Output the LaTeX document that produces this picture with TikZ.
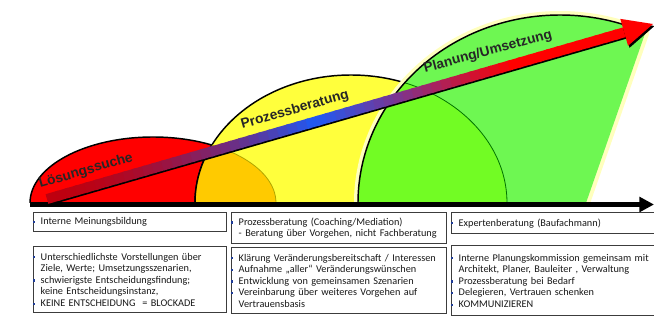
\documentclass[tikz,border=0pt]{standalone}
\usepackage{fontspec}
\setmainfont{Liberation Sans}
\newfontfamily\boxfamily{Carlito}
\usetikzlibrary{calc,arrows.meta}

\definecolor{humpred}{RGB}{255,0,0}
\definecolor{humpyellow}{RGB}{255,255,60}
\definecolor{humporange}{RGB}{255,202,0}
\definecolor{humpgreen}{RGB}{110,247,82}
\definecolor{overlapgreen}{RGB}{114,252,36}
\definecolor{glowyellow}{RGB}{255,255,190}
\definecolor{arrdark}{RGB}{190,0,15}
\definecolor{arrblue}{RGB}{30,90,245}
\definecolor{boxgray}{RGB}{60,60,60}
\definecolor{bulletblue}{RGB}{30,60,150}

\tikzset{
  hump/.style={draw=black, line width=1.1pt},
  seam/.style={line width=0.6pt},
  steplabel/.style={font=\fontsize{10.3}{12}\selectfont\bfseries, text=black!85, inner sep=0pt},
  axisline/.style={line width=3.75pt, -{Triangle[length=11pt,width=11pt]}},
  infobox/.style={draw=boxgray, line width=1.1pt, fill=white, anchor=north west,
    align=left, inner xsep=5.25pt, inner ysep=1.5pt, text=black!90,
    font=\boxfamily\fontsize{7.7}{8.7}\selectfont}
}
\newcommand{\sq}{\leavevmode\llap{\textcolor{bulletblue}{\rule[1.3pt]{1.6pt}{1.6pt}}\hspace{4.2pt}}}

\begin{document}
\begin{tikzpicture}[x=0.75pt,y=0.75pt,yscale=-1,xscale=1]
\useasboundingbox (0,0) rectangle (654,320);

%Shape: red hump
\fill[humpred] (30,203) arc[start angle=180, end angle=360, x radius=123, y radius=66] -- cycle;
\draw[hump] (30,203) arc[start angle=180, end angle=360, x radius=123, y radius=66];
%Shape: yellow hump
\fill[humpyellow] (195,203) arc[start angle=180, end angle=360, x radius=156, y radius=128] -- cycle;
\draw[hump] (195,203) arc[start angle=180, end angle=360, x radius=156, y radius=128];
%Overlap red / yellow
\begin{scope}
\clip (30,203) arc[start angle=180, end angle=360, x radius=123, y radius=66] -- cycle;
\fill[humporange] (195,203) arc[start angle=180, end angle=360, x radius=156, y radius=128] -- cycle;
\draw[hump] (195,203) arc[start angle=180, end angle=360, x radius=156, y radius=128];
\end{scope}
\begin{scope}
\clip (195,203) arc[start angle=180, end angle=360, x radius=156, y radius=128] -- cycle;
\draw[seam, draw=olive!70!yellow] (30,203) arc[start angle=180, end angle=360, x radius=123, y radius=66];
\end{scope}

%Shape: green hump with glow
\draw[glowyellow, line width=6pt, line join=round] (358,203) arc[start angle=180, end angle=295, x radius=202, y radius=188] -- (586,203);
\fill[humpgreen] (358,203) arc[start angle=180, end angle=295, x radius=202, y radius=188] -- (586,203) -- cycle;
%Overlap yellow / green
\begin{scope}
\clip (195,203) arc[start angle=180, end angle=360, x radius=156, y radius=128] -- cycle;
\fill[overlapgreen] (358,203) arc[start angle=180, end angle=295, x radius=202, y radius=188] -- (586,203) -- cycle;
\end{scope}
\begin{scope}
\clip (358,203) arc[start angle=180, end angle=295, x radius=202, y radius=188] -- (586,203) -- cycle;
\draw[seam, draw=green!45!black] (195,203) arc[start angle=180, end angle=360, x radius=156, y radius=128];
\end{scope}
\draw[hump] (358,203) arc[start angle=180, end angle=295, x radius=202, y radius=188];

%Time axis
\coordinate (axstart) at (30,204.5);
\coordinate (axend) at (654,204.5);
\draw[axisline] (axstart) -- (axend);

%Diagonal arrow
\coordinate (arrstart) at (47,199);
\coordinate (arrtip) at (653,24);
\coordinate (headback) at ($(arrtip)!22.5pt!(arrstart)$);
\coordinate (headup) at ($(headback)!10.5pt!90:(arrtip)$);
\coordinate (headdown) at ($(headback)!10.5pt!-90:(arrtip)$);
\draw[black, line width=7.5pt] ($(arrstart)+(1,1.5)$) -- ($(headback)+(1,1.5)$);
\foreach \i in {1,...,60}{
  \pgfmathsetmacro\ta{(\i-1)/60}
  \pgfmathsetmacro\tb{min(1,\i/60+0.005)}
  \ifdim\ta pt<0.456pt
    \pgfmathsetmacro\p{100*(\ta/0.456)^1.8}
    \draw[arrblue!\p!arrdark, line width=7.5pt] ($(arrstart)!\ta!(headback)$) -- ($(arrstart)!\tb!(headback)$);
  \else
    \pgfmathsetmacro\p{max(0,100*(0.8-\ta)/0.344)}
    \draw[arrblue!\p!red, line width=7.5pt] ($(arrstart)!\ta!(headback)$) -- ($(arrstart)!\tb!(headback)$);
  \fi
}
\fill[black] ($(headup)+(1.5,2)$) -- ($(arrtip)+(1.5,2)$) -- ($(headdown)+(1.5,2)$) -- cycle;
\fill[humpred] (headup) -- (arrtip) -- (headdown) -- cycle;

% Text Node
\node[steplabel, rotate=16] (loesung) at (86,171) {Lösungssuche};
% Text Node
\node[steplabel, rotate=16] (prozess) at (295,110) {Prozessberatung};
% Text Node
\node[steplabel, rotate=15] (planung) at (488,52) {Planung/Umsetzung};

% Text Node
\node[infobox, text width=134.25pt, minimum height=14.25pt] (meinung) at (33,212) {\sq Interne Meinungsbildung};
% Text Node
\node[infobox, text width=134.25pt, minimum height=49.5pt] (blockade) at (33,246) {\sq Unterschiedlichste Vorstellungen über\\Ziele, Werte; Umsetzungsszenarien,\\\sq schwierigste Entscheidungsfindung;\\keine Entscheidungsinstanz,\\\sq KEINE ENTSCHEIDUNG \ = BLOCKADE};
% Text Node
\node[infobox, text width=150.75pt, minimum height=23.25pt] (coaching) at (231,212) {\sq Prozessberatung (Coaching/Mediation)\\- Beratung über Vorgehen, nicht Fachberatung};
% Text Node
\node[infobox, text width=150.75pt, minimum height=49.5pt] (klaerung) at (231,247) {\sq Klärung Veränderungsbereitschaft / Interessen\\\sq Aufnahme „aller“ Veränderungswünschen\\\sq Entwicklung von gemeinsamen Szenarien\\\sq Vereinbarung über weiteres Vorgehen auf\\Vertrauensbasis};
% Text Node
\node[infobox, text width=160pt, minimum height=15.75pt] (experten) at (451,212) {\sq Expertenberatung (Baufachmann)};
% Text Node
\node[infobox, text width=160pt, minimum height=52.5pt] (kommission) at (451,245) {\sq Interne Planungskommission gemeinsam mit\\Architekt, Planer, Bauleiter , Verwaltung\\\sq Prozessberatung bei Bedarf\\\sq Delegieren, Vertrauen schenken\\\sq KOMMUNIZIEREN};

\end{tikzpicture}
\end{document}
